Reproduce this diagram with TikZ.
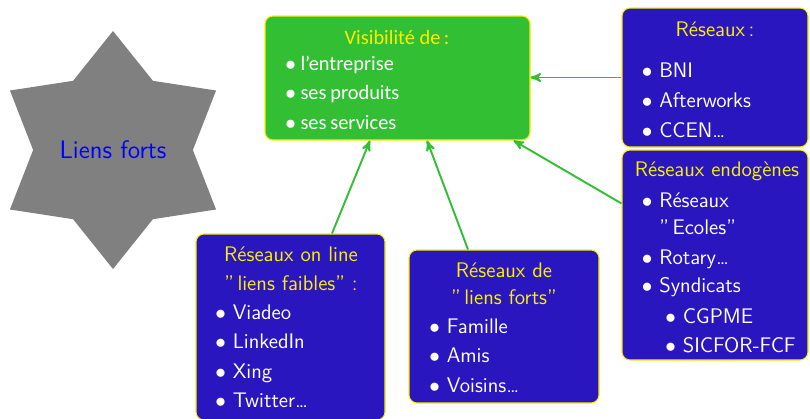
\documentclass[tikz,border=0pt]{standalone}
\usepackage{fontspec}
\newfontfamily\calib{Carlito}
\usetikzlibrary{arrows,shapes.geometric,positioning}
\definecolor{bleuboite}{RGB}{42,22,190}
\definecolor{vertboite}{RGB}{51,191,51}
\definecolor{jaune}{RGB}{250,240,0}
\newcommand\puce{$\bullet$\ }

\tikzset{
  boite/.style={draw=jaune,fill=bleuboite,line width=0.6pt,rounded corners=0.16cm,inner sep=0pt},
  titre/.style={text=jaune,font=\sffamily\fontsize{12}{14}\selectfont,anchor=base,inner sep=0pt},
  item/.style={text=white,font=\sffamily\fontsize{12}{14}\selectfont,anchor=base west,inner sep=0pt},
  fleche/.style={draw=vertboite,line width=1.1pt,-stealth'},
}

\begin{document}
\begin{tikzpicture}
\useasboundingbox (0,0) rectangle (16.2,8.36);
% etoile
\node[star,star points=6,star point ratio=1.49,minimum size=4.76cm,fill=gray,inner sep=0pt,
  text=blue,font=\sffamily\Large] (etoile) at (2.26,5.36) {Liens\ forts};
% boites
\node[boite,fill=vertboite,minimum width=5.30cm,minimum height=2.48cm] (visib) at (7.95,6.80) {};
\node[boite,minimum width=3.72cm,minimum height=2.78cm] (reseaux) at (14.30,6.81) {};
\node[boite,minimum width=3.72cm,minimum height=4.20cm] (endo) at (14.30,3.26) {};
\node[boite,minimum width=3.78cm,minimum height=3.72cm] (online) at (5.81,1.82) {};
\node[boite,minimum width=3.80cm,minimum height=3.06cm] (forts) at (10.08,1.83) {};
% textes
\node[titre,font=\calib\fontsize{11.6}{14}\selectfont] (tvisib) at (7.94,7.48) {Visibilité de\,:};
\foreach \t [count=\i] in {l’entreprise,ses\hspace{-0.5pt} produits,ses\hspace{-0.5pt} services}
  \node[item,font=\calib\fontsize{11.6}{14}\selectfont] (v\i) at (5.70,{6.96-0.59*(\i-1)}) {\puce\t};
\node[titre] (treseaux) at (14.30,7.64) {Réseaux\,:};
\foreach \t [count=\i] in {BNI,Afterworks,CCEN\ldots}
  \node[item] (r\i) at (12.83,{6.81-0.595*(\i-1)}) {\puce\t};
\node[titre] (tendo) at (14.34,4.84) {Réseaux endogènes};
\node[item] (e1) at (12.83,4.22) {\puce Réseaux};
\node[item] (e2) at (12.83,3.68) {\phantom{$\bullet$}\ ''\,Ecoles''};
\node[item] (e3) at (12.83,3.08) {\puce Rotary\ldots};
\node[item] (e4) at (12.83,2.52) {\puce Syndicats};
\node[item] (e5) at (13.30,1.90) {\puce CGPME};
\node[item] (e6) at (13.30,1.32) {\puce SICFOR-FCF};
\node[titre] (tonline1) at (5.82,3.14) {Réseaux on line};
\node[titre] (tonline2) at (5.82,2.56) {''\,liens faibles'' :};
\foreach \t [count=\i] in {Viadeo,LinkedIn,Xing,Twitter\ldots}
  \node[item] (o\i) at (4.30,{1.97-0.585*(\i-1)}) {\puce\t};
\node[titre] (tforts1) at (10.08,2.82) {Réseaux de};
\node[titre] (tforts2) at (10.08,2.28) {''\,liens forts''};
\foreach \t [count=\i] in {Famille,Amis,Voisins\ldots}
  \node[item] (f\i) at (8.58,{1.69-0.585*(\i-1)}) {\puce\t};
% fleches
\draw[fleche] (reseaux.west) -- (reseaux.west -| visib.east);
\draw[fleche] ([yshift=-1.08cm]endo.north west) -- ([xshift=-0.34cm]visib.south east);
\draw[fleche] ([xshift=0.83cm]online.north) -- ([xshift=-0.55cm]visib.south);
\draw[fleche] ([xshift=-0.72cm]forts.north) -- ([xshift=0.59cm]visib.south);
\end{tikzpicture}
\end{document}
